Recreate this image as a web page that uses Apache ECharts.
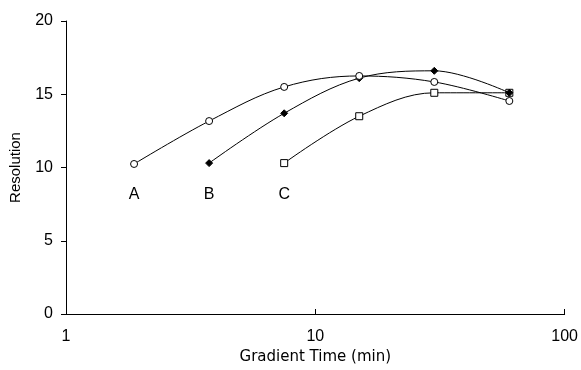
<!DOCTYPE html>
<html><head><meta charset="utf-8">
<script src="https://cdn.jsdelivr.net/npm/echarts@6/dist/echarts.min.js"></script>
<style>html,body{margin:0;padding:0;background:#fff}#c{width:581px;height:370px}</style>
</head><body><div id="c"></div>
<script>
const times = [1.875, 3.75, 7.5, 15, 30, 60];
const seriesA = [10.24, 13.17, 15.5, 16.25, 15.84, 14.54];
const seriesB = [null, 10.3, 13.7, 16.1, 16.6, 15.1];
const seriesC = [null, null, 10.3, 13.5, 15.1, 15.1];
const seriesNames = ['A', 'B', 'C'];
const yTicks = [0, 5, 10, 15, 20];
const xTicks = [1, 10, 100];

const font = '"Liberation Sans", Arial, sans-serif';

function pairs(vals, name) {
  const out = [];
  let first = true;
  vals.forEach((v, i) => {
    if (v === null) return;
    const item = { value: [times[i], v] };
    if (first) {
      item.label = { show: true, position: 'bottom', distance: 19, formatter: name,
        fontFamily: font, fontSize: 16, color: '#000' };
      first = false;
    }
    out.push(item);
  });
  return out;
}

const chart = echarts.init(document.getElementById('c'));
const symbols = [
  { symbol: 'circle', symbolSize: 7, itemStyle: { color: '#fff', borderColor: '#000', borderWidth: 1 } },
  { symbol: 'diamond', symbolSize: 7, itemStyle: { color: '#000', borderColor: '#000', borderWidth: 1 } },
  { symbol: 'rect', symbolSize: 7, itemStyle: { color: '#fff', borderColor: '#000', borderWidth: 1 } }
];
const allSeries = [seriesA, seriesB, seriesC];
chart.setOption({
  animation: false,
  grid: { left: 66, right: 15, top: 21, bottom: 56 },
  xAxis: {
    type: 'log', logBase: 10, min: xTicks[0], max: xTicks[xTicks.length - 1],
    name: 'Gradient Time (min)', nameLocation: 'middle', nameGap: 34,
    nameTextStyle: { fontFamily: '"DejaVu Sans", sans-serif', fontSize: 15, color: '#000' },
    axisLine: { lineStyle: { color: '#000', width: 1 } },
    axisTick: { show: true, inside: true, length: 5, lineStyle: { color: '#000' } },
    axisLabel: { fontFamily: font, fontSize: 16, color: '#000', margin: 15 },
    minorTick: { show: false },
    splitLine: { show: false }
  },
  yAxis: {
    type: 'value', min: yTicks[0], max: yTicks[yTicks.length - 1], interval: 5,
    name: 'Resolution', nameLocation: 'middle', nameGap: 43, nameRotate: 90,
    nameTextStyle: { fontFamily: font, fontSize: 15, color: '#000' },
    axisLine: { show: true, lineStyle: { color: '#000', width: 1 } },
    axisTick: { show: true, length: 5, lineStyle: { color: '#000' } },
    axisLabel: { fontFamily: font, fontSize: 16, color: '#000', margin: 13 },
    splitLine: { show: false }
  },
  series: allSeries.map((vals, i) => Object.assign({
    type: 'line', name: seriesNames[i], smooth: 0.35,
    data: pairs(vals, seriesNames[i]),
    lineStyle: { color: '#000', width: 1 },
    z: 3 - i
  }, symbols[i]))
});
</script></body></html>
